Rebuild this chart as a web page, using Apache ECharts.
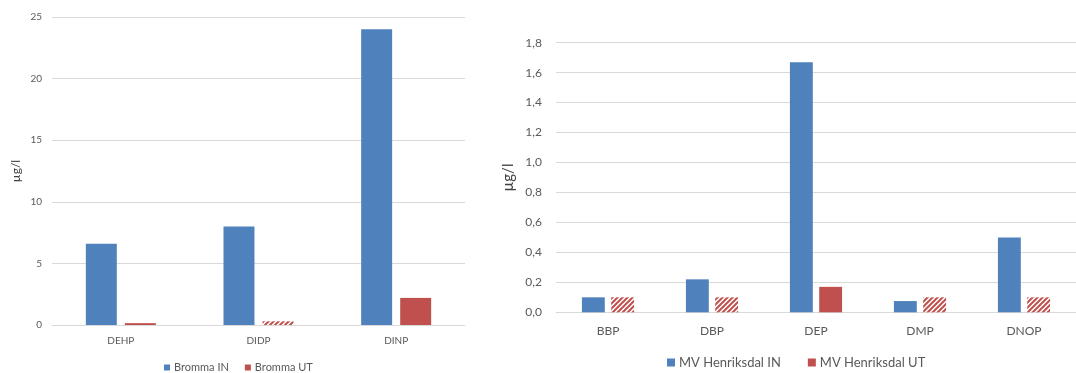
<!DOCTYPE html>
<html>
<head>
<meta charset="utf-8">
<script src="https://cdn.jsdelivr.net/npm/echarts@6/dist/echarts.min.js"></script>
<style>
  html, body { margin: 0; padding: 0; background: #fff; }
  #main { width: 1076px; height: 373px; }
</style>
</head>
<body>
<div id="main"></div>
<script>
// left chart: Bromma
var bromCats = ['DEHP', 'DIDP', 'DINP'];
var bromIn = [6.6, 8.0, 24.0];
var bromUt = [0.15, 0.3, 2.2];
var bromUtHatch = [false, true, false];   // below detection limit

// right chart: MV Henriksdal
var henCats = ['BBP', 'DBP', 'DEP', 'DMP', 'DNOP'];
var henIn = [0.1, 0.22, 1.67, 0.075, 0.5];
var henUt = [0.1, 0.1, 0.17, 0.1, 0.1];
var henUtHatch = [true, true, false, true, true];

var BLUE = '#4F81BD', RED = '#C0504D';
var FONT = 'Lato';

// diagonal hatch pattern
function makeHatch() {
  var s = 5;
  var c = document.createElement('canvas');
  c.width = s; c.height = s;
  var ctx = c.getContext('2d');
  ctx.fillStyle = '#fff';
  ctx.fillRect(0, 0, s, s);
  ctx.strokeStyle = RED;
  ctx.lineWidth = 2;
  ctx.beginPath();
  ctx.moveTo(0, s); ctx.lineTo(s, 0);
  ctx.moveTo(-2, 2); ctx.lineTo(2, -2);
  ctx.moveTo(s - 2, s + 2); ctx.lineTo(s + 2, s - 2);
  ctx.stroke();
  return { image: c, repeat: 'repeat' };
}
var hatch = makeHatch();

function utData(vals, flags) {
  return vals.map(function (v, i) {
    if (!flags[i]) return v;
    return { value: v, itemStyle: { color: hatch } };
  });
}

var myChart = echarts.init(document.getElementById('main'));

var axisText = { color: '#595959', fontFamily: FONT };

var option = {
  animation: false,
  textStyle: { fontFamily: FONT },
  grid: [
    { left: 52, top: 17, width: 413, height: 308 },
    { left: 556, top: 42.7, width: 530, height: 269.6 }
  ],
  legend: [
    {
      data: ['Bromma IN', 'Bromma UT'],
      left: 164, top: 362, padding: 0,
      icon: 'rect', itemWidth: 6, itemHeight: 6, itemGap: 16,
      textStyle: { color: '#595959', fontSize: 11, fontFamily: FONT, padding: [0, 0, 0, -1] }
    },
    {
      data: ['MV Henriksdal IN', 'MV Henriksdal UT'],
      left: 667, top: 356, padding: 0,
      icon: 'rect', itemWidth: 8, itemHeight: 8, itemGap: 27,
      textStyle: { color: '#595959', fontSize: 13, fontFamily: FONT, padding: [0, 0, 0, -1] }
    }
  ],
  xAxis: [
    {
      gridIndex: 0, type: 'category', data: bromCats,
      axisLine: { lineStyle: { color: '#d9d9d9' } },
      axisTick: { show: false },
      axisLabel: Object.assign({ fontSize: 10, margin: 11 }, axisText)
    },
    {
      gridIndex: 1, type: 'category', data: henCats,
      axisLine: { lineStyle: { color: '#d9d9d9' } },
      axisTick: { show: false },
      axisLabel: Object.assign({ fontSize: 12, margin: 13 }, axisText)
    }
  ],
  yAxis: [
    {
      gridIndex: 0, type: 'value', min: 0, max: 25, interval: 5,
      name: 'µg/l', nameLocation: 'middle', nameGap: 30, nameRotate: 90,
      nameTextStyle: { color: '#404040', fontSize: 12, fontFamily: FONT },
      axisLine: { show: false }, axisTick: { show: false },
      axisLabel: Object.assign({ fontSize: 10, margin: 10 }, axisText),
      splitLine: { lineStyle: { color: '#d9d9d9' } }
    },
    {
      gridIndex: 1, type: 'value', min: 0, max: 1.8, interval: 0.2,
      name: 'µg/l', nameLocation: 'middle', nameGap: 40, nameRotate: 90,
      nameTextStyle: { color: '#404040', fontSize: 15, fontFamily: FONT },
      axisLine: { show: false }, axisTick: { show: false },
      axisLabel: Object.assign({
        fontSize: 12, margin: 14,
        formatter: function (v) { return v.toFixed(1).replace('.', ','); }
      }, axisText),
      splitLine: { lineStyle: { color: '#d9d9d9' } }
    }
  ],
  series: [
    {
      name: 'Bromma IN', type: 'bar', xAxisIndex: 0, yAxisIndex: 0,
      data: bromIn, barWidth: '22.5%', barGap: '26%',
      itemStyle: { color: BLUE }
    },
    {
      name: 'Bromma UT', type: 'bar', xAxisIndex: 0, yAxisIndex: 0,
      data: utData(bromUt, bromUtHatch), barWidth: '22.5%', barGap: '26%',
      itemStyle: { color: RED }
    },
    {
      name: 'MV Henriksdal IN', type: 'bar', xAxisIndex: 1, yAxisIndex: 1,
      data: henIn, barWidth: '22%', barGap: '28%',
      itemStyle: { color: BLUE }
    },
    {
      name: 'MV Henriksdal UT', type: 'bar', xAxisIndex: 1, yAxisIndex: 1,
      data: utData(henUt, henUtHatch), barWidth: '22%', barGap: '28%',
      itemStyle: { color: RED }
    }
  ]
};

myChart.setOption(option);
</script>
</body>
</html>
